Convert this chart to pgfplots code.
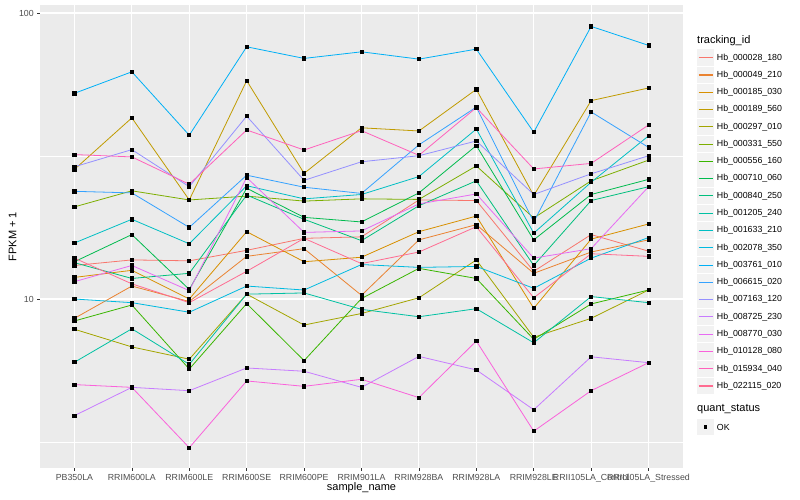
\documentclass[border=0pt]{standalone}
\usepackage{pgfplots}
\pgfplotsset{compat=1.18}
\usepackage{pgfplotstable}
\usepackage{fontspec}
\setmainfont{Liberation Sans}

\definecolor{c1}{HTML}{F8766D}
\definecolor{c2}{HTML}{EA8331}
\definecolor{c3}{HTML}{D89000}
\definecolor{c4}{HTML}{C09B00}
\definecolor{c5}{HTML}{A3A500}
\definecolor{c6}{HTML}{7CAE00}
\definecolor{c7}{HTML}{39B600}
\definecolor{c8}{HTML}{00BB4E}
\definecolor{c9}{HTML}{00BF7D}
\definecolor{c10}{HTML}{00C1A3}
\definecolor{c11}{HTML}{00BFC4}
\definecolor{c12}{HTML}{00BAE0}
\definecolor{c13}{HTML}{00B0F6}
\definecolor{c14}{HTML}{35A2FF}
\definecolor{c15}{HTML}{9590FF}
\definecolor{c16}{HTML}{C77CFF}
\definecolor{c17}{HTML}{E76BF3}
\definecolor{c18}{HTML}{FA62DB}
\definecolor{c19}{HTML}{FF62BC}
\definecolor{c20}{HTML}{FF6C91}
\definecolor{panel}{HTML}{EBEBEB}
\definecolor{legbg}{HTML}{F2F2F2}
\definecolor{lab}{HTML}{4D4D4D}
\definecolor{tickc}{HTML}{333333}

% FPKM + 1 per sample (rows) and gene (columns s1..s20)
\pgfplotstableread{
x  s1   s2    s3    s4   s5    s6   s7    s8   s9   s10  s11  s12   s13  s14  s15  s16  s17  s18  s19  s20
0  13.1 8.56  11.9  28.4 7.84  21.0 8.38  13.5 13.4 6.01 15.7 10.0  52.4 23.8 29.0 3.91 11.5 5.02 32.0 13.9
1  13.7 11.1  12.6  43.0 6.80  23.9 9.53  16.8 11.8 7.87 19.0 9.71  62.3 23.5 33.3 4.91 13.1 4.91 31.4 11.3
2  13.6 9.80  10.0  22.2 6.16  22.2 5.69  10.8 12.3 5.91 15.6 8.99  37.4 17.8 24.7 4.78 10.7 3.02 25.2 9.71
3  14.8 14.1  17.2  58.0 10.4  22.9 9.64  24.4 23.1 10.4 24.9 11.1  76.2 27.1 43.6 5.74 26.6 5.17 39.0 12.5
4  16.3 15.0  13.5  27.5 8.11  22.0 6.09  19.3 19.0 10.5 22.4 10.75 69.4 24.6 26.0 5.59 17.1 4.95 33.2 16.3
5  16.5 10.3  14.0  39.7 8.90  22.4 10.04 18.6 16.0 9.20 23.2 13.2  73.2 23.4 30.2 4.91 17.3 5.24 38.8 13.3
6  22.2 16.1  17.2  38.7 10.1  22.3 12.8  23.5 21.2 8.67 26.8 12.9  69.0 34.6 31.7 6.30 21.5 4.52 31.8 14.6
7  22.1 18.2  19.5  54.1 13.7  29.2 11.8  34.4 25.9 9.25 39.3 13.0  74.8 46.9 35.7 5.65 23.3 7.13 46.7 17.9
8  12.5 12.3  9.28  23.0 7.35  19.2 7.23  16.1 13.1 7.03 17.0 10.9  38.3 18.6 23.2 4.10 13.9 3.45 28.5 10.1
9  16.8 14.6  16.2  49.4 8.56  25.9 9.61  23.2 22.1 10.2 25.6 13.9  89.8 45.1 27.4 6.28 15.0 4.78 29.8 14.4
10 14.7 16.1  18.3  54.7 10.75 30.6 10.75 26.2 24.7 9.71 37.2 16.4  77.1 33.9 31.7 5.99 24.7 5.99 40.6 14.1
}\fpkm

\begin{document}
\begin{tikzpicture}[x=1pt,y=1pt]
\path[use as bounding box] (0,0) rectangle (800,500);
\begin{axis}[
    at={(40pt,32pt)}, anchor=south west,
    scale only axis, width=643pt, height=463pt,
    ymode=log, ymin=2.565, ymax=106.7,
    xmin=-0.6, xmax=10.6,
    xtick={0,...,10},
    xticklabels={PB350LA,RRIM600LA,RRIM600LE,RRIM600SE,RRIM600PE,RRIM901LA,RRIM928BA,RRIM928LA,RRIM928LE,RRII105LA\_Control,RRII105LA\_Stressed},
    ytick={10,100}, yticklabels={10,100},
    minor ytick={3.162,31.62},
    xmajorgrids, ymajorgrids, yminorgrids,
    major grid style={white, line width=1.1pt},
    minor grid style={white, line width=0.55pt},
    axis background/.style={fill=panel},
    axis line style={draw=none},
    xtick pos=lower, ytick pos=left,
    tick align=outside, major tick length=2.75pt, minor tick length=0pt,
    tick style={draw=tickc, line width=0.5pt},
    ticklabel style={font=\fontsize{8.8}{10}\selectfont, text=lab},
    xlabel={sample\_name},
    ylabel={FPKM + 1},
    xlabel style={font=\fontsize{11}{13}\selectfont, at={(axis description cs:0.5,-0.0432)}, anchor=center},
    ylabel style={font=\fontsize{11}{13}\selectfont, at={(axis description cs:-0.0428,0.5)}, anchor=center},
    every axis plot/.append style={line width=0.8pt},
]
\addplot[c1] table[x=x,y=s1]{\fpkm};
\addplot[c2] table[x=x,y=s2]{\fpkm};
\addplot[c3] table[x=x,y=s3]{\fpkm};
\addplot[c4] table[x=x,y=s4]{\fpkm};
\addplot[c5] table[x=x,y=s5]{\fpkm};
\addplot[c6] table[x=x,y=s6]{\fpkm};
\addplot[c7] table[x=x,y=s7]{\fpkm};
\addplot[c8] table[x=x,y=s8]{\fpkm};
\addplot[c9] table[x=x,y=s9]{\fpkm};
\addplot[c10] table[x=x,y=s10]{\fpkm};
\addplot[c11] table[x=x,y=s11]{\fpkm};
\addplot[c12] table[x=x,y=s12]{\fpkm};
\addplot[c13] table[x=x,y=s13]{\fpkm};
\addplot[c14] table[x=x,y=s14]{\fpkm};
\addplot[c15] table[x=x,y=s15]{\fpkm};
\addplot[c16] table[x=x,y=s16]{\fpkm};
\addplot[c17] table[x=x,y=s17]{\fpkm};
\addplot[c18] table[x=x,y=s18]{\fpkm};
\addplot[c19] table[x=x,y=s19]{\fpkm};
\addplot[c20] table[x=x,y=s20]{\fpkm};
% points on top of all lines
\pgfplotsinvokeforeach{1,...,20}{
  \addplot[only marks, mark=square*, mark size=1.6pt, black] table[x=x,y=s#1]{\fpkm};
}
\end{axis}
% legend: tracking_id
\node[anchor=west, inner sep=0pt, font=\fontsize{11}{13}\selectfont] at (697,459.3) {tracking\_id};
\foreach \keycol/\lab [count=\i from 0] in {c1/Hb\_000028\_180,c2/Hb\_000049\_210,c3/Hb\_000185\_030,c4/Hb\_000189\_560,c5/Hb\_000297\_010,c6/Hb\_000331\_550,c7/Hb\_000556\_160,c8/Hb\_000710\_060,c9/Hb\_000840\_250,c10/Hb\_001205\_240,c11/Hb\_001633\_210,c12/Hb\_002078\_350,c13/Hb\_003761\_010,c14/Hb\_006615\_020,c15/Hb\_007163\_120,c16/Hb\_008725\_230,c17/Hb\_008770\_030,c18/Hb\_010128\_080,c19/Hb\_015934\_040,c20/Hb\_022115\_020}{
  \pgfmathsetmacro{\yy}{442.3-17.28*\i}
  \fill[legbg] (697,\yy-8.2) rectangle (714.3,\yy+8.2);
  \draw[draw=\keycol, line width=1.1pt] (698.7,\yy) -- (712.6,\yy);
  \node[anchor=west, inner sep=0pt, font=\fontsize{8.8}{10}\selectfont] at (716.7,\yy) {\lab};
}
% legend: quant_status
\node[anchor=west, inner sep=0pt, font=\fontsize{11}{13}\selectfont] at (697,91) {quant\_status};
\fill[legbg] (697,64.8) rectangle (714.3,81.2);
\fill[black] (703.9,71.3) rectangle (707.4,74.7);
\node[anchor=west, inner sep=0pt, font=\fontsize{8.8}{10}\selectfont] at (716.7,73) {OK};
\end{tikzpicture}
\end{document}
